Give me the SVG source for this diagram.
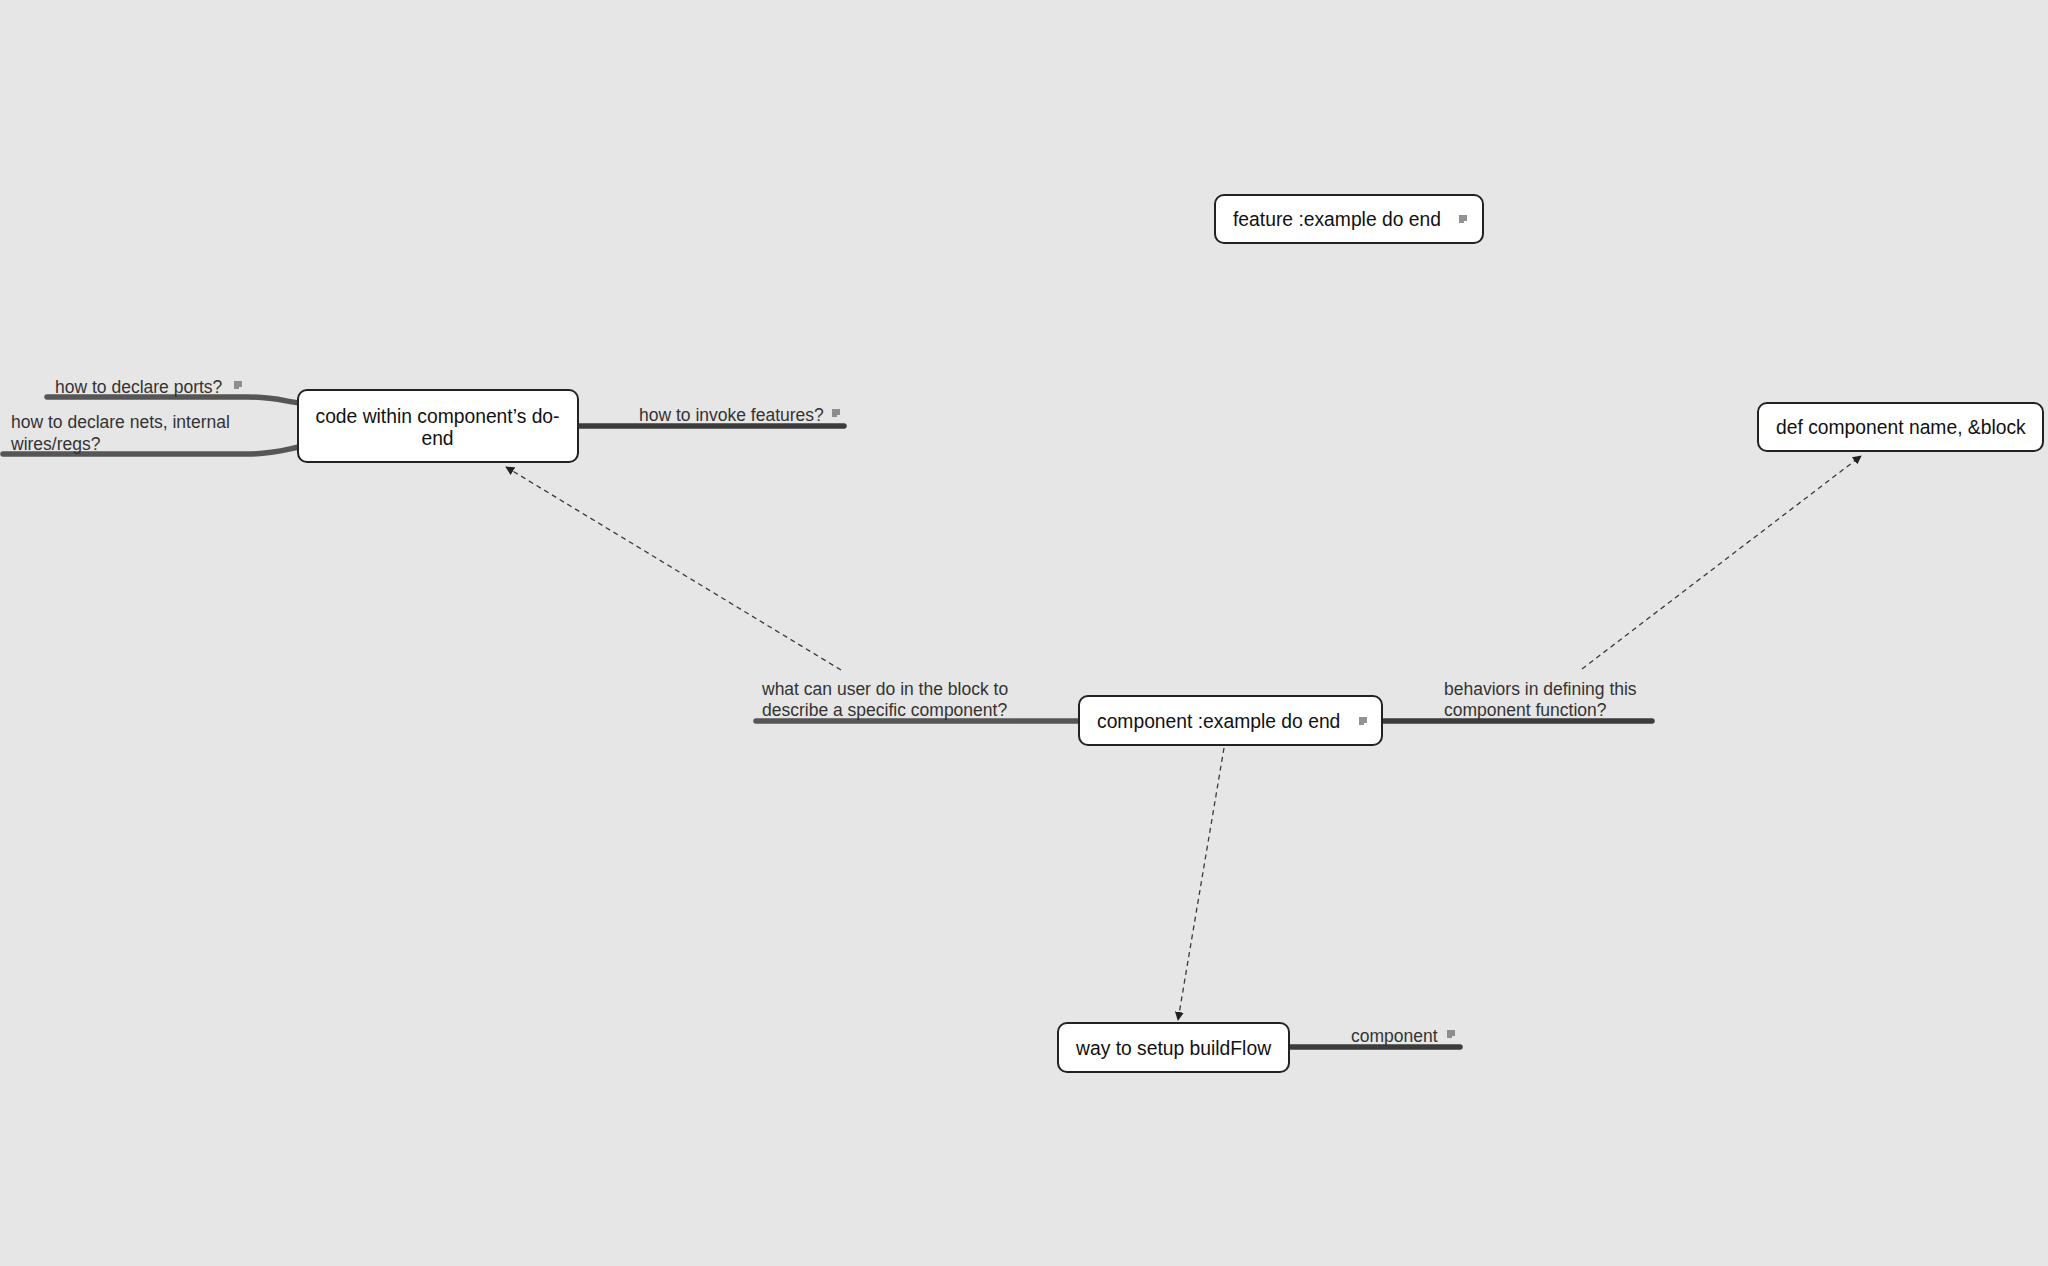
<svg xmlns="http://www.w3.org/2000/svg" width="2048" height="1266" viewBox="0 0 2048 1266">
<defs>
<style>
.bg{fill:#e6e6e6}
.box{fill:#ffffff;stroke:#222222;stroke-width:2}
.nt{font-family:"Liberation Sans",Arial,Helvetica,sans-serif;font-size:19.3px;fill:#111111}
.lt{font-family:"Liberation Sans",Arial,Helvetica,sans-serif;font-size:17.5px;fill:#333333}
.br{fill:none;stroke:#3c3c3c;stroke-width:5.5;stroke-linecap:round}
.brl{fill:none;stroke:#565656;stroke-width:5.5;stroke-linecap:round}
.dash{fill:none;stroke:#3a3a3a;stroke-width:1.3;stroke-dasharray:5 4}
.note{fill:none;stroke:#707070;stroke-width:1.3}
</style>
<marker id="arr" viewBox="0 0 10 10" refX="9" refY="5" markerWidth="9" markerHeight="9" markerUnits="userSpaceOnUse" orient="auto">
<path d="M0,0 L10,5 L0,10 Z" fill="#222222"/>
</marker>
<g id="noteIcon">
<path class="note" d="M-4,-3 H4 M-4,-1 H4 M-4,1 H4 M-4,3 H1"/>
</g>
</defs>
<rect class="bg" x="0" y="0" width="2048" height="1266"/>

<g id="connectors">
<path class="brl" d="M756,721 L1080,721"/>
<path class="br" d="M1380,721 L1652,721"/>
<path class="br" d="M576,426 L844,426"/>
<path class="brl" d="M47,397 L248,397 C272,397 284,401 299,403"/>
<path class="brl" d="M3,454 L248,454 C272,454 284,450 299,447"/>
<path class="br" d="M1287,1047 L1460,1047"/>
<path class="dash" d="M841,670 L506,467" marker-end="url(#arr)"/>
<path class="dash" d="M1582,669 L1861,456" marker-end="url(#arr)"/>
<path class="dash" d="M1224,748 L1178,1020" marker-end="url(#arr)"/>
</g>

<g id="label-ports">
<text class="lt" x="55" y="393">how to declare ports?</text>
<use href="#noteIcon" x="238" y="385"/>
</g>
<g id="label-nets">
<text class="lt" x="11" y="428">how to declare nets, internal</text>
<text class="lt" x="11" y="450">wires/regs?</text>
</g>
<g id="label-invoke">
<text class="lt" x="639" y="421">how to invoke features?</text>
<use href="#noteIcon" x="836" y="413"/>
</g>
<g id="label-what">
<text class="lt" x="762" y="695">what can user do in the block to</text>
<text class="lt" x="762" y="716">describe a specific component?</text>
</g>
<g id="label-behaviors">
<text class="lt" x="1444" y="695">behaviors in defining this</text>
<text class="lt" x="1444" y="716">component function?</text>
</g>
<g id="label-component">
<text class="lt" x="1351" y="1042">component</text>
<use href="#noteIcon" x="1451" y="1034"/>
</g>

<g id="node-feature">
<rect class="box" x="1215" y="195" width="268" height="48" rx="9"/>
<text class="nt" x="1233" y="226">feature :example do end</text>
<use href="#noteIcon" x="1463" y="219"/>
</g>
<g id="node-code">
<rect class="box" x="298" y="390" width="280" height="72" rx="9"/>
<text class="nt" x="437.5" y="423" text-anchor="middle">code within component’s do-</text>
<text class="nt" x="437.5" y="445" text-anchor="middle">end</text>
</g>
<g id="node-def">
<rect class="box" x="1758" y="403" width="285" height="48" rx="9"/>
<text class="nt" x="1776" y="434">def component name, &amp;block</text>
</g>
<g id="node-component">
<rect class="box" x="1079" y="696" width="303" height="49" rx="9"/>
<text class="nt" x="1097" y="728">component :example do end</text>
<use href="#noteIcon" x="1363" y="721"/>
</g>
<g id="node-buildflow">
<rect class="box" x="1058" y="1023" width="231" height="49" rx="9"/>
<text class="nt" x="1076" y="1055">way to setup buildFlow</text>
</g>
</svg>
